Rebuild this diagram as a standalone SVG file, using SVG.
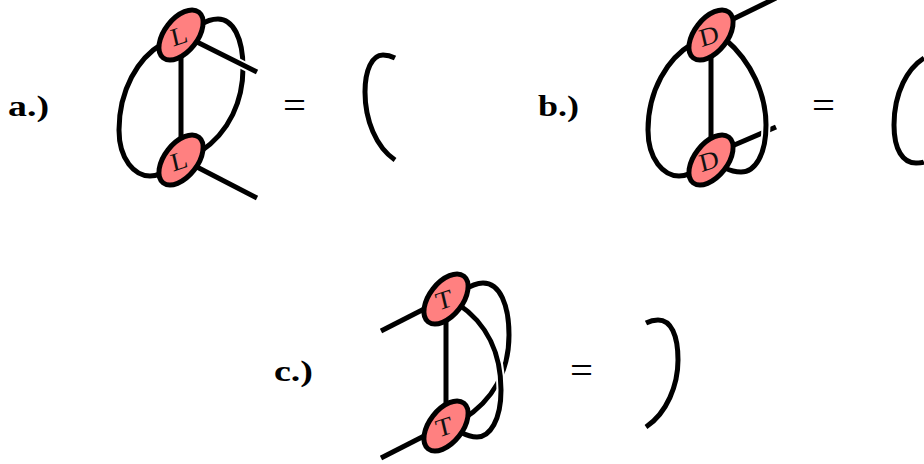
<svg xmlns="http://www.w3.org/2000/svg" width="924" height="464" viewBox="0 0 924 464">
<style>
.c{fill:none;stroke:#000;stroke-width:5}
.h{fill:none;stroke:#fff;stroke-width:9}
.n{fill:#ff8080;stroke:#000;stroke-width:5}
.t{font-family:"Liberation Serif",serif;font-size:29px;text-anchor:middle;fill:#111}
.l{font-family:"Liberation Serif",serif;font-size:29px;font-weight:bold;fill:#000}
.e{font-family:"Liberation Serif",serif;font-size:40px;fill:#000}
</style>
<rect width="924" height="464" fill="#fff"/>
<g id="connectors">
<path class="c" d="M181 35V160"/>
<path class="c" d="M162 44C138 58 119 90 119 130C119 160 135 176 150 176C158 176 162 173 166 170"/>
<path class="c" d="M200 25C206 21 212 19 218 19C233 19 243 38 243 68C243 100 230 132 200 152"/>
<path class="h" d="M198 43L257 72"/>
<path class="c" d="M195 41L257 72"/>
<path class="c" d="M195 166L257 198"/>
<path class="c" d="M395 58C391 56 387 55 383 55C372 55 365 70 365 92C365 120 376 147 395 160"/>
<path class="c" d="M711 35V160"/>
<path class="c" d="M725 23L776 -2"/>
<path class="c" d="M692 44C668 58 648 90 648 130C648 160 664 176 679 176C687 176 691 173 695 170"/>
<path class="c" d="M725 149L776 127"/>
<path class="h" d="M728 43C752 62 766 95 766 125C766 155 755 172 741 172C735 172 731 171 727 169"/>
<path class="c" d="M725 39C752 62 766 95 766 125C766 155 755 172 741 172C735 172 731 171 725 168"/>
<path class="c" d="M924 58C908 68 894 92 894 125C894 150 903 163 916 163C919 163 922 163 924 162"/>
<path class="c" d="M446 298V426"/>
<path class="c" d="M381 331L430 306"/>
<path class="c" d="M381 458L430 433"/>
<path class="c" d="M462 291C470 286 477 283 483 283C500 283 509 305 509 335C509 370 494 400 462 420"/>
<path class="h" d="M465 308C488 324 501 355 501 390C501 420 490 437 477 437C472 437 468 436 464 434"/>
<path class="c" d="M458 304C488 324 501 355 501 390C501 420 490 437 477 437C472 437 468 436 460 432"/>
<path class="c" d="M646 323C650 321 654 320 658 320C671 320 678 335 678 360C678 385 667 413 646 427"/>
</g>
<g id="node-a-top"><ellipse class="n" cx="181" cy="35" rx="29" ry="16.5" transform="rotate(-52 181 35)"/><text class="t" transform="matrix(.9 -.3 .2 .85 181 44)">L</text></g>
<g id="node-a-bottom"><ellipse class="n" cx="181" cy="160" rx="29" ry="16.5" transform="rotate(-52 181 160)"/><text class="t" transform="matrix(.9 -.3 .2 .85 181 169)">L</text></g>
<g id="node-b-top"><ellipse class="n" cx="711" cy="35" rx="29" ry="16.5" transform="rotate(-52 711 35)"/><text class="t" transform="matrix(.9 -.3 .2 .85 711 44)">D</text></g>
<g id="node-b-bottom"><ellipse class="n" cx="711" cy="160" rx="29" ry="16.5" transform="rotate(-52 711 160)"/><text class="t" transform="matrix(.9 -.3 .2 .85 711 169)">D</text></g>
<g id="node-c-top"><ellipse class="n" cx="446" cy="299" rx="29" ry="16.5" transform="rotate(-52 446 299)"/><text class="t" transform="matrix(.9 -.3 .2 .85 446 308)">T</text></g>
<g id="node-c-bottom"><ellipse class="n" cx="446" cy="426" rx="29" ry="16.5" transform="rotate(-52 446 426)"/><text class="t" transform="matrix(.9 -.3 .2 .85 446 435)">T</text></g>
<g id="labels">
<text class="l" x="8" y="116" textLength="41" lengthAdjust="spacingAndGlyphs">a.)</text>
<text class="l" x="538" y="116" textLength="41" lengthAdjust="spacingAndGlyphs">b.)</text>
<text class="l" x="274" y="381" textLength="39" lengthAdjust="spacingAndGlyphs">c.)</text>
<text class="e" x="283" y="119" textLength="23" lengthAdjust="spacingAndGlyphs">=</text>
<text class="e" x="812" y="119" textLength="23" lengthAdjust="spacingAndGlyphs">=</text>
<text class="e" x="570" y="384" textLength="23" lengthAdjust="spacingAndGlyphs">=</text>
</g>
</svg>
